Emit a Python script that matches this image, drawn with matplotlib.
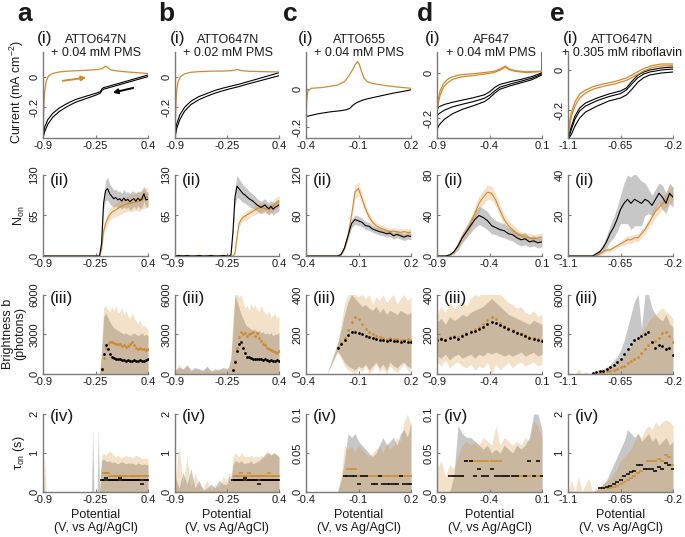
import numpy as np
import matplotlib
matplotlib.use('Agg')
import matplotlib.pyplot as plt

plt.rcParams['font.family'] = ['Liberation Sans', 'DejaVu Sans']
plt.rcParams['mathtext.fontset'] = 'custom'
plt.rcParams['mathtext.rm'] = 'Liberation Sans'
plt.rcParams['mathtext.it'] = 'Liberation Sans:italic'

nan = float('nan')

# ---------------- row (i): cyclic voltammograms ----------------
a_cv_ox = [-0.9, -0.895, -0.89, -0.88, -0.86, -0.83, -0.78, -0.7, -0.6, -0.5, -0.4, -0.3, -0.22, -0.17, -0.14, -0.12, -0.1, -0.07, 0.0, 0.1, 0.25, 0.4]
a_cv_o = [-0.4, -0.3, -0.2, -0.1, -0.03, 0.005, 0.02, 0.03, 0.035, 0.038, 0.04, 0.043, 0.046, 0.052, 0.062, 0.068, 0.06, 0.045, 0.038, 0.032, 0.026, 0.02]
a_cv_rx = [0.4, 0.3, 0.2, 0.1, 0.0, -0.1, -0.15, -0.17, -0.19, -0.25, -0.35, -0.5, -0.6, -0.7, -0.78, -0.84, -0.88, -0.9]
a_cv_r1 = [0.01, -0.005, -0.02, -0.035, -0.05, -0.065, -0.072, -0.08, -0.098, -0.11, -0.125, -0.15, -0.175, -0.205, -0.24, -0.28, -0.33, -0.4]
a_cv_r2 = [0.0, -0.015, -0.03, -0.045, -0.06, -0.075, -0.082, -0.09, -0.108, -0.122, -0.14, -0.168, -0.195, -0.228, -0.265, -0.31, -0.36, -0.4]

b_cv_ox = [-0.9, -0.895, -0.89, -0.88, -0.86, -0.83, -0.78, -0.7, -0.6, -0.45, -0.3, -0.2, -0.15, -0.12, -0.08, 0.0, 0.2, 0.4]
b_cv_o = [-0.4, -0.3, -0.2, -0.09, -0.03, 0.0, 0.018, 0.028, 0.032, 0.035, 0.036, 0.038, 0.042, 0.046, 0.04, 0.035, 0.032, 0.03]
b_cv_rx = [0.4, 0.3, 0.2, 0.1, 0.0, -0.1, -0.2, -0.3, -0.4, -0.5, -0.6, -0.7, -0.78, -0.84, -0.88, -0.9]
b_cv_r1 = [0.025, 0.01, -0.005, -0.02, -0.035, -0.05, -0.062, -0.075, -0.09, -0.11, -0.13, -0.16, -0.2, -0.25, -0.31, -0.38]
b_cv_r2 = [0.005, -0.008, -0.022, -0.036, -0.05, -0.065, -0.078, -0.092, -0.108, -0.128, -0.15, -0.182, -0.225, -0.28, -0.34, -0.4]

c_cv_ox = [-0.4, -0.398, -0.395, -0.39, -0.37, -0.3, -0.22, -0.18, -0.155, -0.135, -0.12, -0.106, -0.095, -0.085, -0.07, -0.05, -0.02, 0.05, 0.12, 0.2]
c_cv_o = [-0.14, -0.1, -0.05, -0.01, 0.005, 0.01, 0.022, 0.04, 0.07, 0.1, 0.127, 0.145, 0.13, 0.1, 0.06, 0.04, 0.03, 0.02, 0.012, 0.005]
c_cv_rx = [0.2, 0.15, 0.1, 0.05, 0.0, -0.05, -0.08, -0.11, -0.13, -0.15, -0.17, -0.2, -0.26, -0.33, -0.4]
c_cv_r = [-0.003, -0.012, -0.02, -0.03, -0.04, -0.05, -0.058, -0.07, -0.082, -0.1, -0.107, -0.112, -0.118, -0.128, -0.143]

d_cv_ox = [-0.9, -0.89, -0.87, -0.84, -0.8, -0.75, -0.68, -0.55, -0.45, -0.36, -0.3, -0.25, -0.21, -0.15, -0.05, 0.05, 0.1]
d_cv_o1 = [-0.17, -0.12, -0.08, -0.05, -0.03, -0.018, -0.01, -0.005, 0.0, 0.005, 0.015, 0.028, 0.015, 0.008, 0.003, 0.005, 0.006]
d_cv_o2 = [-0.19, -0.14, -0.1, -0.065, -0.045, -0.03, -0.02, -0.013, -0.007, 0.0, 0.01, 0.024, 0.012, 0.005, 0.0, 0.003, 0.004]
d_cv_rx = [0.1, 0.1, 0.05, 0.0, -0.1, -0.2, -0.3, -0.35, -0.4, -0.45, -0.55, -0.65, -0.75, -0.83, -0.88, -0.9]
d_cv_r1 = [0.09, 0.0, -0.01, -0.018, -0.03, -0.04, -0.052, -0.065, -0.085, -0.098, -0.11, -0.12, -0.13, -0.14, -0.15, -0.16]
d_cv_r2 = [-0.005, -0.005, -0.016, -0.025, -0.038, -0.05, -0.064, -0.08, -0.1, -0.113, -0.127, -0.138, -0.15, -0.165, -0.18, -0.19]
d_cv_r3 = [-0.01, -0.01, -0.022, -0.032, -0.045, -0.058, -0.073, -0.09, -0.112, -0.128, -0.145, -0.16, -0.18, -0.205, -0.23, -0.25]

e_cv_ox = [-1.1, -1.09, -1.07, -1.04, -1.0, -0.95, -0.88, -0.8, -0.7, -0.6, -0.52, -0.45, -0.38, -0.3, -0.2]
e_cv_o1 = [-0.34, -0.27, -0.21, -0.16, -0.12, -0.1, -0.082, -0.07, -0.058, -0.04, -0.015, 0.008, 0.022, 0.03, 0.03]
e_cv_o2 = [-0.34, -0.29, -0.23, -0.18, -0.14, -0.115, -0.095, -0.082, -0.07, -0.052, -0.028, -0.004, 0.012, 0.02, 0.022]
e_cv_rx = [-0.2, -0.3, -0.4, -0.45, -0.5, -0.55, -0.6, -0.65, -0.75, -0.85, -0.95, -1.0, -1.04, -1.07, -1.09, -1.1]
e_cv_r1 = [0.015, 0.01, 0.0, -0.01, -0.025, -0.055, -0.09, -0.105, -0.12, -0.14, -0.165, -0.19, -0.23, -0.28, -0.32, -0.34]
e_cv_r2 = [0.005, 0.0, -0.01, -0.02, -0.038, -0.068, -0.1, -0.118, -0.133, -0.153, -0.18, -0.205, -0.245, -0.295, -0.33, -0.34]
e_cv_r3 = [-0.01, -0.015, -0.025, -0.038, -0.06, -0.095, -0.125, -0.14, -0.155, -0.18, -0.21, -0.24, -0.28, -0.32, -0.34, -0.34]

# ---------------- column a: rows (ii)-(iv) ----------------
a_x = [-0.9, -0.6, -0.3, -0.25, -0.225, -0.2, -0.175, -0.15, -0.125, -0.1, -0.075, -0.05, -0.025, 0.0, 0.025,
       0.05, 0.075, 0.1, 0.125, 0.15, 0.175, 0.2, 0.225, 0.25, 0.275, 0.3, 0.325, 0.35, 0.375, 0.4]
a_non_blk = [0, 0, 0, 0, 0, 0, 20, 85, 105, 108, 100, 96, 92, 94, 90, 92, 88, 93, 89, 91, 87, 90, 92, 88, 93, 89, 92, 100, 90, 91]
a_non_org = [0, 0, 0, 0, 0, 0, 10, 40, 52, 60, 66, 70, 72, 74, 76, 78, 80, 82, 83, 84, 85, 85, 86, 87, 87, 88, 90, 92, 95, 94]
a_non_blk_sd = [0, 0, 0, 0, 0, 0, 5, 12, 16, 18, 16, 15, 14, 13, 14, 12, 13, 14, 13, 12, 13, 14, 12, 13, 12, 13, 14, 12, 13, 12]
a_non_org_sd = [0, 0, 0, 0, 0, 0, 3, 6, 8, 9, 9, 10, 10, 11, 11, 12, 12, 12, 13, 12, 13, 14, 13, 14, 15, 16, 15, 16, 15, 14]
a_b_blk = [nan, nan, nan, nan, nan, nan, 400, 1500, 2200, 1900, 1500, 1300, 1200, 1150, 1100, 1100, 1050, 1050, 1000, 1050,
           1000, 1000, 1050, 1000, 1000, 1050, 1000, 1000, 1050, 1100]
a_b_org = [nan, nan, nan, nan, nan, nan, 300, 1200, 2000, 2300, 2450, 2400, 2350, 2300, 2250, 2300, 2150, 2200, 2050, 2100,
           2300, 2450, 2200, 2000, 1900, 1950, 1850, 1900, 1800, 1900]
a_b_org_hi = [0, 0, 0, 0, 0, 0, 2000, 5000, 5200, 4900, 4700, 5100, 4800, 5200, 4600, 4700, 5000, 4500, 4800, 4400,
              4200, 4600, 4300, 4000, 3800, 4100, 3600, 3700, 3500, 3400]
a_b_blk_hi = [0, 0, 0, 0, 0, 0, 1500, 4300, 4600, 4300, 4000, 3700, 3500, 3400, 3300, 3200, 3100, 3000, 3100, 3000,
              2900, 3000, 3100, 3000, 2900, 3000, 3100, 2900, 3000, 2900]
a_t_org_hi = [0, 0, 0, 0, 0, 0, 0.9, 1.0, 0.95, 1.0, 1.05, 1.0, 0.95, 0.9, 0.95, 0.9, 0.88, 0.9, 0.95, 0.9,
              0.92, 0.88, 0.9, 0.95, 0.92, 0.9, 0.85, 0.88, 0.85, 0.9]
a_t_blk_hi = [0, 0, 0, 0, 0, 0, 0.8, 0.85, 0.8, 0.78, 0.8, 0.75, 0.78, 0.75, 0.72, 0.75, 0.78, 0.75, 0.72, 0.75,
              0.73, 0.75, 0.72, 0.7, 0.75, 0.72, 0.7, 0.72, 0.7, 0.7]
a_t_blk = [nan, nan, nan, nan, nan, nan, 0.3, 0.3, 0.35, 0.3, 0.3, 0.3, 0.3, 0.3, 0.3, 0.35, 0.3, 0.3, 0.3, 0.3,
           0.3, 0.3, 0.3, 0.3, 0.3, 0.3, 0.2, 0.3, 0.3, 0.3]
a_t_org = [nan, nan, nan, nan, nan, nan, nan, 0.5, 0.5, 0.5, 0.4, nan, 0.4, 0.4, 0.4, 0.4, 0.4, 0.4, 0.4, nan,
           0.4, 0.4, 0.4, 0.4, 0.4, 0.4, nan, 0.4, 0.4, 0.4]
a_t_spk_x = [-0.3, -0.285, -0.27, -0.23, -0.215, -0.2]
a_t_spk_y = [0, 1.6, 0, 0, 1.6, 0]
a_t_ospk_x = [-0.9, -0.88, -0.86]
a_t_ospk_y = [0, 0.9, 0]

# ---------------- column b ----------------
b_x = [-0.9, -0.85, -0.8, -0.75, -0.7, -0.65, -0.6, -0.55, -0.5, -0.45, -0.4, -0.35, -0.3,
       -0.25, -0.225, -0.2, -0.175, -0.15, -0.125, -0.1, -0.075, -0.05, -0.025, 0.0, 0.025, 0.05, 0.075,
       0.1, 0.125, 0.15, 0.175, 0.2, 0.225, 0.25, 0.275, 0.3, 0.325, 0.35, 0.375, 0.4]
b_non_blk = [0, 1, 0, 1, 0, 0, 1, 0, 0, 1, 0, 0, 1,
             0, 0, 2, 40, 95, 112, 108, 104, 100, 98, 95, 92, 90, 88, 85, 82, 80, 78, 80, 82, 78, 76, 80, 75, 78, 80, 82]
b_non_org = [0, 0, 1, 0, 0, 1, 0, 0, 1, 0, 0, 1, 0,
             0, 0, 0, 0, 5, 30, 52, 58, 62, 64, 66, 68, 70, 72, 74, 76, 77, 78, 77, 76, 75, 74, 76, 80, 84, 86, 88]
b_non_blk_sd = [0, 0, 0, 0, 0, 0, 0, 0, 0, 0, 0, 0, 0,
                0, 0, 1, 8, 14, 18, 16, 15, 14, 13, 13, 12, 12, 11, 11, 10, 10, 10, 10, 10, 9, 10, 9, 10, 9, 10, 9]
b_non_org_sd = [0, 0, 0, 0, 0, 0, 0, 0, 0, 0, 0, 0, 0,
                0, 0, 0, 0, 3, 5, 6, 6, 6, 7, 7, 7, 7, 7, 8, 8, 8, 8, 8, 8, 8, 8, 8, 9, 9, 9, 9]
b_b_blk = [nan, nan, nan, nan, nan, nan, nan, nan, nan, nan, nan, nan, nan,
           nan, nan, nan, 300, 900, 1700, 2300, 2400, 2000, 1600, 1300, 1250, 1200, 1150, 1100, 1150, 1100, 1100,
           1050, 1100, 1050, 1000, 1050, 1000, 1000, 1050, 1000]
b_b_org = [nan, nan, nan, nan, nan, nan, nan, nan, nan, nan, nan, nan, nan,
           nan, nan, nan, 300, 1000, 2000, 2800, 3200, 3000, 3100, 2900, 3000, 3100, 3200, 2900, 3100, 2700, 2500,
           2300, 2200, 2000, 1900, 1800, 1700, 1650, 1600, 1700]
b_b_org_hi = [200, 800, 300, 600, 200, 400, 300, 200, 500, 300, 200, 400, 300,
              300, 500, 1500, 4500, 6000, 6000, 5800, 6000, 5500, 5000, 5200, 4800, 5300, 5000, 5200, 4900, 4700, 5200,
              4800, 4600, 4500, 4800, 4300, 4400, 4600, 4200, 4400]
b_b_blk_hi = [300, 500, 400, 700, 300, 500, 400, 300, 600, 200, 400, 300, 500,
              400, 600, 1200, 3500, 6000, 5500, 5000, 4500, 4200, 3800, 3600, 3500, 3400, 3300, 3400, 3200, 3300, 3100,
              3200, 3000, 3100, 3000, 3100, 2900, 3000, 3000, 3100]
b_t_org_hi = [0.3, 1.2, 0.2, 0.9, 0.1, 0.5, 0.2, 0.1, 0.3, 0.05, 0.2, 0.1, 0.4,
              0.3, 0.5, 0.4, 0.9, 1.0, 0.95, 0.9, 1.0, 0.95, 0.9, 0.92, 0.9, 0.95, 0.88, 0.9, 0.92, 0.9, 0.95,
              0.9, 1.0, 1.05, 1.0, 0.95, 1.0, 1.0, 0.95, 0.9]
b_t_blk_hi = [0.4, 0.1, 0.5, 0.2, 0.6, 0.1, 0.3, 0.05, 0.1, 0.2, 0.1, 0.3, 0.2,
              0.2, 0.4, 0.3, 0.7, 0.8, 0.78, 0.75, 0.8, 0.75, 0.72, 0.75, 0.75, 0.8, 0.72, 0.75, 0.78, 0.8, 0.85,
              0.9, 0.95, 1.0, 1.0, 0.95, 1.0, 0.98, 0.95, 0.9]
b_t_blk = [nan, nan, nan, nan, nan, nan, nan, nan, nan, nan, nan, nan, nan,
           nan, nan, nan, 0.3, 0.3, 0.3, 0.3, 0.3, 0.3, 0.35, 0.3, 0.3, 0.3, 0.3, 0.3, 0.3, 0.2, 0.3,
           0.3, 0.3, 0.3, 0.3, 0.3, 0.3, 0.3, 0.3, 0.3]
b_t_org = [nan, nan, nan, nan, nan, nan, nan, nan, nan, nan, nan, nan, nan,
           nan, nan, nan, nan, 0.4, 0.4, 0.4, 0.5, 0.4, 0.4, 0.4, 0.5, 0.4, 0.4, 0.4, 0.4, 0.4, 0.4,
           0.4, 0.4, 0.4, 0.5, 0.4, 0.4, 0.4, 0.4, 0.4]

# ---------------- column c ----------------
c_x = [-0.4, -0.34, -0.28, -0.22, -0.2, -0.18, -0.16, -0.14, -0.12, -0.1, -0.08, -0.06, -0.04, -0.02, 0.0,
       0.02, 0.04, 0.06, 0.08, 0.1, 0.12, 0.14, 0.16, 0.18, 0.2]
c_non_blk = [0, 0, 0, 0, 2, 12, 30, 48, 54, 52, 50, 45, 44, 40, 38, 36, 35, 33, 34, 30, 32, 30, 28, 30, 29]
c_non_org = [0, 0, 0, 0, 2, 12, 30, 60, 95, 100, 85, 70, 58, 50, 45, 42, 40, 38, 36, 37, 36, 35, 36, 35, 35]
c_non_blk_sd = [0, 0, 0, 0, 1, 3, 5, 6, 7, 7, 6, 6, 6, 5, 5, 5, 5, 5, 5, 5, 5, 5, 5, 5, 5]
c_non_org_sd = [0, 0, 0, 0, 1, 3, 5, 8, 10, 10, 8, 7, 6, 5, 5, 5, 5, 5, 5, 5, 5, 5, 5, 5, 5]
c_b_blk = [nan, nan, nan, 130, 150, 170, 195, 210, 212, 205, 200, 190, 185, 180, 175, 172, 170, 168, 170, 165, 168, 162, 165, 160, 162]
c_b_org = [nan, nan, nan, 135, 155, 180, 220, 260, 285, 275, 250, 225, 210, 200, 190, 185, 180, 178, 180, 175, 178, 172, 170, 175, 172]
c_b_org_hi = [0, 0, 0, 160, 250, 350, 400, 400, 400, 390, 400, 380, 400, 350, 390, 370, 400, 360, 380, 400, 350, 380, 400, 370, 390]
c_b_org_lo = [0, 0, 0, 110, 80, 40, 20, 10, 0, 30, 10, 40, 0, 20, 50, 10, 30, 0, 40, 20, 10, 30, 50, 20, 10]
c_b_blk_hi = [0, 0, 0, 150, 220, 300, 360, 400, 380, 360, 340, 350, 330, 320, 340, 310, 330, 300, 320, 310, 300, 320, 310, 300, 310]
c_b_blk_lo = [0, 0, 0, 115, 90, 60, 40, 30, 20, 40, 30, 50, 20, 40, 60, 30, 50, 20, 60, 40, 30, 50, 60, 40, 30]
c_t_blk = [nan, nan, nan, nan, nan, 0.02, 0.02, 0.02, 0.02, 0.01, 0.02, 0.02, nan, 0.01, 0.01, 0.02, 0.01, 0.01, 0.01, 0.01,
           0.01, 0.02, 0.01, 0.01, 0.01]
c_t_org = [nan, nan, nan, nan, nan, 0.02, 0.03, 0.03, 0.03, 0.02, 0.02, 0.02, 0.02, 0.02, 0.02, 0.02, 0.02, 0.02, 0.02, 0.02,
           0.02, 0.02, 0.02, 0.02, 0.02]
c_t_org_hi = [0, 0, 0, 0, 0.02, 0.06, 0.055, 0.06, 0.05, 0.06, 0.055, 0.05, 0.045, 0.05, 0.055, 0.06, 0.05, 0.065, 0.055, 0.06,
              0.07, 0.065, 0.09, 0.1, 0.085]
c_t_blk_hi = [0, 0, 0, 0, 0.015, 0.04, 0.075, 0.07, 0.075, 0.065, 0.06, 0.055, 0.05, 0.045, 0.05, 0.06, 0.07, 0.06, 0.065, 0.07,
              0.06, 0.075, 0.08, 0.07, 0.09]

# ---------------- column d ----------------
d_x = [-0.9, -0.86, -0.82, -0.78, -0.74, -0.7, -0.66, -0.62, -0.58, -0.54, -0.5, -0.46, -0.42, -0.38, -0.34,
       -0.3, -0.26, -0.22, -0.18, -0.14, -0.1, -0.06, -0.02, 0.02, 0.06, 0.1]
d_non_blk = [0, 0, 0, 1, 4, 10, 18, 24, 30, 36, 40, 38, 35, 30, 28, 26, 25, 22, 21, 18, 16, 17, 14, 15, 13, 14]
d_non_org = [0, 0, 0, 1, 4, 10, 18, 24, 32, 42, 52, 58, 63, 62, 55, 45, 36, 30, 26, 22, 20, 19, 18, 17, 18, 19]
d_non_blk_sd = [0, 0, 0, 1, 2, 4, 5, 6, 7, 8, 9, 9, 9, 8, 7, 7, 7, 6, 6, 6, 6, 6, 5, 5, 5, 5]
d_non_org_sd = [0, 0, 0, 1, 2, 3, 4, 5, 6, 6, 7, 7, 7, 7, 6, 6, 5, 5, 5, 5, 4, 4, 4, 4, 4, 4]
d_b_blk = [170, 175, 172, 180, 185, 178, 190, 200, 210, 215, 225, 235, 250, 262, 258, 245, 235, 228, 215, 205, 200, 190, 182, 178, 172, 168]
d_b_org = [175, 180, 170, 185, 190, 185, 195, 205, 215, 225, 235, 250, 270, 285, 275, 255, 240, 230, 220, 210, 200, 195, 185, 180, 175, 172]
d_b_org_hi = [300, 340, 310, 360, 330, 350, 370, 340, 380, 400, 390, 420, 430, 440, 420, 400, 380, 360, 350, 330, 340, 310, 300, 320, 290, 300]
d_b_org_lo = [60, 40, 70, 30, 50, 60, 40, 30, 50, 20, 40, 30, 60, 0, 50, 20, 40, 60, 30, 50, 60, 40, 50, 60, 40, 50]
d_b_blk_hi = [260, 280, 250, 290, 270, 280, 300, 290, 310, 320, 330, 340, 360, 380, 360, 340, 320, 300, 290, 280, 270, 260, 250, 270, 260, 250]
d_b_blk_lo = [90, 80, 100, 70, 90, 100, 80, 90, 100, 80, 100, 90, 110, 100, 110, 100, 90, 100, 90, 100, 110, 90, 100, 110, 90, 100]
d_t_blk = [nan, nan, nan, 0.02, 0.02, 0.02, 0.02, 0.04, 0.04, 0.02, 0.03, 0.02, 0.02, 0.03, 0.02, 0.02, 0.02, 0.02, 0.02, 0.02,
           nan, 0.02, 0.04, 0.02, 0.04, 0.02]
d_t_org = [nan, nan, nan, nan, 0.02, nan, 0.02, 0.04, 0.04, 0.04, 0.04, 0.04, 0.04, 0.04, 0.04, 0.04, 0.02, 0.02, 0.02, 0.02,
           0.02, 0.02, 0.02, 0.02, 0.02, 0.02]
d_t_org_hi = [0.03, 0.04, 0.02, 0.035, 0.03, 0.045, 0.06, 0.065, 0.06, 0.065, 0.06, 0.07, 0.065, 0.06, 0.085, 0.06, 0.07, 0.065,
              0.06, 0.065, 0.06, 0.07, 0.065, 0.09, 0.085, 0.07]
d_t_blk_hi = [0, 0, 0, 0, 0.02, 0.085, 0.075, 0.07, 0.07, 0.065, 0.06, 0.055, 0.06, 0.05, 0.055, 0.05, 0.06, 0.055, 0.05, 0.06,
              0.055, 0.06, 0.07, 0.1, 0.1, 0.08]

# ---------------- column e ----------------
e_x = [-1.1, -1.07, -1.04, -1.01, -0.98, -0.95, -0.92, -0.89, -0.86, -0.83, -0.8, -0.77, -0.74, -0.71, -0.68, -0.65,
       -0.62, -0.59, -0.56, -0.53, -0.5, -0.47, -0.44, -0.41, -0.38, -0.35, -0.32, -0.29, -0.26, -0.23, -0.2]
e_non_blk = [0, 0, 0, 0, 0, 0, 0, 0, 1, 2, 4, 7, 11, 14, 18, 23, 26, 28, 26, 28, 27, 26, 28, 27, 25, 28, 31, 29, 26, 31, 29]
e_non_org = [0, 0, 0, 0, 0, 0, 0, 0, 0, 1, 2, 3, 3, 4, 5, 6, 7, 8, 8, 9, 9, 11, 13, 16, 19, 22, 24, 26, 28, 30, 30]
e_non_blk_sd = [0, 0, 0, 0, 0, 0, 0, 0, 1, 1, 2, 3, 4, 5, 6, 7, 10, 12, 13, 13, 12, 11, 8, 6, 5, 5, 5, 6, 5, 5, 5]
e_non_org_sd = [0, 0, 0, 0, 0, 0, 0, 0, 0, 1, 1, 1, 1, 1, 1, 1, 2, 2, 2, 2, 2, 2, 2, 2, 3, 3, 3, 3, 4, 4, 4]
e_b_blk = [nan, nan, nan, nan, nan, nan, nan, 100, 150, 200, 250, 350, 550, 700, 900, 1100, 1500, 1900, 2300, 2600,
           2700, 2850, 3000, 3200, 2400, 2000, 2200, 2100, 1900, 2000, 1400]
e_b_org = [nan, nan, nan, nan, nan, nan, nan, nan, nan, 100, 150, 200, 250, 300, 400, 500, 600, 800, 1000, 1100,
           1300, 1600, 1900, 2200, 2400, 2500, 2700, 3100, 3200, 2900, 2400]
e_b_blk_hi = [0, 0, 0, 0, 0, 0, 0, 100, 200, 300, 400, 500, 700, 1000, 1300, 1800, 2500, 3500, 4500, 5500,
              6000, 3500, 6000, 6000, 5000, 4500, 4200, 4000, 4500, 3800, 3500]
e_b_org_hi = [0, 0, 0, 400, 0, 200, 0, 0, 200, 250, 300, 400, 500, 600, 800, 1000, 1300, 1700, 2000, 2500,
              2800, 3200, 3500, 4000, 4300, 4500, 4800, 5000, 4700, 4500, 4200]
e_t_blk = [nan, nan, nan, nan, nan, nan, nan, nan, nan, 0.1, 0.1, 0.13, 0.15, 0.2, 0.26, 0.3, 0.4, 0.45, 0.52, 0.55,
           0.7, 0.7, 0.6, 0.6, 0.6, 0.55, 0.65, 0.6, 0.75, 0.7, 0.6]
e_t_org = [nan, nan, nan, nan, nan, nan, nan, nan, nan, nan, nan, 0.1, 0.1, 0.13, 0.15, 0.2, 0.25, 0.3, 0.35, 0.4,
           0.5, 0.55, 0.6, 0.8, 0.8, 0.8, 0.85, 0.8, 0.95, 0.9, 0.7]
e_t_blk_hi = [0, 0, 0, 0, 0, 0, 0, 0, 0.05, 0.1, 0.2, 0.3, 0.5, 0.7, 0.9, 1.1, 1.3, 1.6, 1.5, 1.4,
              1.5, 1.3, 1.4, 1.5, 1.3, 1.4, 1.2, 1.3, 1.4, 1.2, 1.3]
e_t_org_hi = [0, 0.3, 0, 0.4, 0, 0.2, 0.35, 0, 0.1, 0.15, 0.2, 0.25, 0.35, 0.45, 0.6, 0.8, 0.9, 1.0, 1.1, 1.3,
              1.5, 1.4, 1.6, 1.7, 1.6, 1.8, 1.7, 1.8, 1.85, 1.8, 1.7]

# ---------------- axes text ----------------
dyes = ['ATTO647N', 'ATTO647N', 'ATTO655', 'AF647', 'ATTO647N']
mediators = ['+ 0.04 mM PMS', '+ 0.02 mM PMS', '+ 0.04 mM PMS', '+ 0.04 mM PMS', '+ 0.305 mM riboflavin']
letters = ['a', 'b', 'c', 'd', 'e']
xlims = [(-0.9, 0.4), (-0.9, 0.4), (-0.4, 0.2), (-0.9, 0.1), (-1.1, -0.2)]
xtick_vals = [[-0.9, -0.25, 0.4], [-0.9, -0.25, 0.4], [-0.4, -0.1, 0.2], [-0.9, -0.4, 0.1], [-1.1, -0.65, -0.2]]
xtick_labs = [['-0.9', '-0.25', '0.4'], ['-0.9', '-0.25', '0.4'], ['-0.4', '-0.1', '0.2'],
              ['-0.9', '-0.4', '0.1'], ['-1.1', '-0.65', '-0.2']]
cv_ylims = [(-0.4, 0.16), (-0.4, 0.16), (-0.255, 0.195), (-0.287, 0.09), (-0.34, 0.09)]
non_ticks = [[0, 65, 130], [0, 65, 130], [0, 60, 120], [0, 40, 80], [0, 20, 40]]
bri_ticks = [[0, 3000, 6000], [0, 3000, 6000], [0, 200, 400], [0, 200, 400], [0, 3000, 6000]]
tau_ticks = [[0, 1, 2], [0, 1, 2], [0, 0.05, 0.1], [0, 0.05, 0.1], [0, 1, 2]]
tau_labs = [['0', '1', '2'], ['0', '1', '2'], ['0', '0.05', '0.1'], ['0', '0.05', '0.1'], ['0', '1', '2']]

ORG = '#D08A2E'
GRY = '#9a9a9a'
AXC = '#7a7a7a'
TXT = '#1a1a1a'

W, H = 685, 537
fig = plt.figure(figsize=(W / 100, H / 100), dpi=100)

col_px = [(43, 148), (175, 279), (306, 411), (437, 542), (568, 673)]
row_px = [(52, 138), (175, 256), (294.5, 374), (414, 492)]


def ftxt(px, py, s, **kw):
    fig.text(px / W, 1 - py / H, s, color=TXT, **kw)


def new_ax(c, r, ylim, yt, ytl):
    l, rr = col_px[c]
    t, b = row_px[r]
    ax = fig.add_axes([l / W, 1 - b / H, (rr - l) / W, (b - t) / H])
    ax.patch.set_alpha(0)
    ax.set_xlim(xlims[c])
    ax.set_ylim(ylim)
    ax.set_xticks(xtick_vals[c])
    ax.set_xticklabels(xtick_labs[c])
    ax.set_yticks(yt)
    ax.set_yticklabels(ytl, rotation=90, va='center')
    for s in ['top', 'right']:
        ax.spines[s].set_visible(False)
    for s in ['left', 'bottom']:
        ax.spines[s].set_color(AXC)
        ax.spines[s].set_linewidth(1.0)
    ax.tick_params(direction='in', length=2.5, width=0.8, color=AXC,
                   labelsize=8, labelcolor=TXT, pad=2.5)
    return ax


def band(ax, x, lo, hi, color, alpha):
    ax.fill_between(x, lo, hi, color=color, alpha=alpha, lw=0)


# columns gathered for the loop
cv_data = [
    ([(a_cv_ox, a_cv_o)], [(a_cv_rx, a_cv_r1), (a_cv_rx, a_cv_r2)]),
    ([(b_cv_ox, b_cv_o)], [(b_cv_rx, b_cv_r1), (b_cv_rx, b_cv_r2)]),
    ([(c_cv_ox, c_cv_o)], [(c_cv_rx, c_cv_r)]),
    ([(d_cv_ox, d_cv_o1), (d_cv_ox, d_cv_o2)], [(d_cv_rx, d_cv_r1), (d_cv_rx, d_cv_r2), (d_cv_rx, d_cv_r3)]),
    ([(e_cv_ox, e_cv_o1), (e_cv_ox, e_cv_o2)], [(e_cv_rx, e_cv_r1), (e_cv_rx, e_cv_r2), (e_cv_rx, e_cv_r3)]),
]
grid_x = [a_x, b_x, c_x, d_x, e_x]
non_data = [(a_non_blk, a_non_blk_sd, a_non_org, a_non_org_sd),
            (b_non_blk, b_non_blk_sd, b_non_org, b_non_org_sd),
            (c_non_blk, c_non_blk_sd, c_non_org, c_non_org_sd),
            (d_non_blk, d_non_blk_sd, d_non_org, d_non_org_sd),
            (e_non_blk, e_non_blk_sd, e_non_org, e_non_org_sd)]
zeros = [np.zeros(len(x)) for x in grid_x]
bri_data = [(a_b_blk, zeros[0], a_b_blk_hi, a_b_org, zeros[0], a_b_org_hi),
            (b_b_blk, zeros[1], b_b_blk_hi, b_b_org, zeros[1], b_b_org_hi),
            (c_b_blk, c_b_blk_lo, c_b_blk_hi, c_b_org, c_b_org_lo, c_b_org_hi),
            (d_b_blk, d_b_blk_lo, d_b_blk_hi, d_b_org, d_b_org_lo, d_b_org_hi),
            (e_b_blk, zeros[4], e_b_blk_hi, e_b_org, zeros[4], e_b_org_hi)]
tau_data = [(a_t_blk, a_t_blk_hi, a_t_org, a_t_org_hi),
            (b_t_blk, b_t_blk_hi, b_t_org, b_t_org_hi),
            (c_t_blk, c_t_blk_hi, c_t_org, c_t_org_hi),
            (d_t_blk, d_t_blk_hi, d_t_org, d_t_org_hi),
            (e_t_blk, e_t_blk_hi, e_t_org, e_t_org_hi)]

for c in range(5):
    x = np.array(grid_x[c])

    # (i) CV
    ax = new_ax(c, 0, cv_ylims[c], [-0.2, 0], ['-0.2', '0'])
    org_tr, blk_tr = cv_data[c]
    for xx, yy in blk_tr:
        ax.plot(xx, yy, color='black', lw=0.8)
    for xx, yy in org_tr:
        ax.plot(xx, yy, color=ORG, lw=0.9)
    if c == 0:
        ax.annotate('', xy=(-0.33, -0.004), xytext=(-0.69, -0.03),
                    arrowprops=dict(arrowstyle='-|>', color=ORG, lw=1.4, mutation_scale=7))
        ax.annotate('', xy=(-0.07, -0.109), xytext=(0.25, -0.07),
                    arrowprops=dict(arrowstyle='-|>', color='black', lw=1.4, mutation_scale=7))

    # (ii) N_on
    yt = non_ticks[c]
    ax = new_ax(c, 1, (0, yt[-1]), yt, [str(v) for v in yt])
    kb, kbs, ko, kos = [np.array(v, dtype=float) for v in non_data[c]]
    band(ax, x, kb - kbs, kb + kbs, GRY, 0.55)
    band(ax, x, ko - kos, ko + kos, ORG, 0.25)
    ax.plot(x, ko, color=ORG, lw=0.8)
    ax.plot(x, kb, color='black', lw=0.8)

    # (iii) brightness
    yt = bri_ticks[c]
    ax = new_ax(c, 2, (0, yt[-1]), yt, [str(v) for v in yt])
    bb, bbl, bbh, bo, bol, boh = [np.array(v, dtype=float) for v in bri_data[c]]
    band(ax, x, bbl, bbh, GRY, 0.55)
    band(ax, x, bol, boh, ORG, 0.25)
    ax.plot(x, bo, ls='none', marker='o', ms=2.0, mew=0, color=ORG)
    ax.plot(x, bb, ls='none', marker='o', ms=2.0, mew=0, color='black')

    # (iv) tau_on
    yt = tau_ticks[c]
    ax = new_ax(c, 3, (0, yt[-1]), yt, tau_labs[c])
    tb, tbh, to, toh = [np.array(v, dtype=float) for v in tau_data[c]]
    band(ax, x, 0, tbh, GRY, 0.55)
    band(ax, x, 0, toh, ORG, 0.25)
    if c == 0:
        band(ax, a_t_spk_x, 0, a_t_spk_y, GRY, 0.55)
        band(ax, a_t_ospk_x, 0, a_t_ospk_y, ORG, 0.25)
    ax.plot(x, to, ls='none', marker='_', ms=2.2, mew=1.1, color=ORG)
    ax.plot(x, tb, ls='none', marker='_', ms=2.2, mew=1.1, color='black')

    # x axis label under each column
    cx = (col_px[c][0] + col_px[c][1]) / 2
    ftxt(cx, 515, 'Potential', fontsize=9, ha='center', va='center')
    ftxt(cx, 528, '(V, vs Ag/AgCl)', fontsize=9, ha='center', va='center')

    # row numerals
    l = col_px[c][0]
    ftxt(l + 7, row_px[1][0] + 5, '(ii)', fontsize=12.5, ha='left', va='center')
    ftxt(l + 7, row_px[2][0] + 4, '(iii)', fontsize=12.5, ha='left', va='center')
    ftxt(l + 7, row_px[3][0] + 3, '(iv)', fontsize=12.5, ha='left', va='center')

# titles of the top row
i_pos = [37, 170, 298, 425, 563]
title_cx = [96, 228, 359, 491, 622]
letter_pos = [25, 166, 290, 425, 557]
for c in range(5):
    ftxt(i_pos[c], 39, '(i)', fontsize=12.5, ha='left', va='center')
    ftxt(title_cx[c], 40, dyes[c], fontsize=9, ha='center', va='center')
    ftxt(title_cx[c], 53, mediators[c], fontsize=9, ha='center', va='center')
    ftxt(letter_pos[c], 14, letters[c], fontsize=19, fontweight='bold', ha='center', va='center')

# y axis labels
ftxt(17, 92, 'Current (mA cm$^{-2}$)', fontsize=9, rotation=90, ha='center', va='center')
ftxt(19, 216, 'N$_{\\rm on}$', fontsize=9, rotation=90, ha='center', va='center')
ftxt(14, 334, 'Brightness b\n(photons)', fontsize=9, rotation=90, ha='center', va='center',
     linespacing=1.1, multialignment='center')
ftxt(19, 453, 'τ$_{\\rm on}$ (s)', fontsize=9, rotation=90, ha='center', va='center')

fig.savefig('out.png', dpi=100)
